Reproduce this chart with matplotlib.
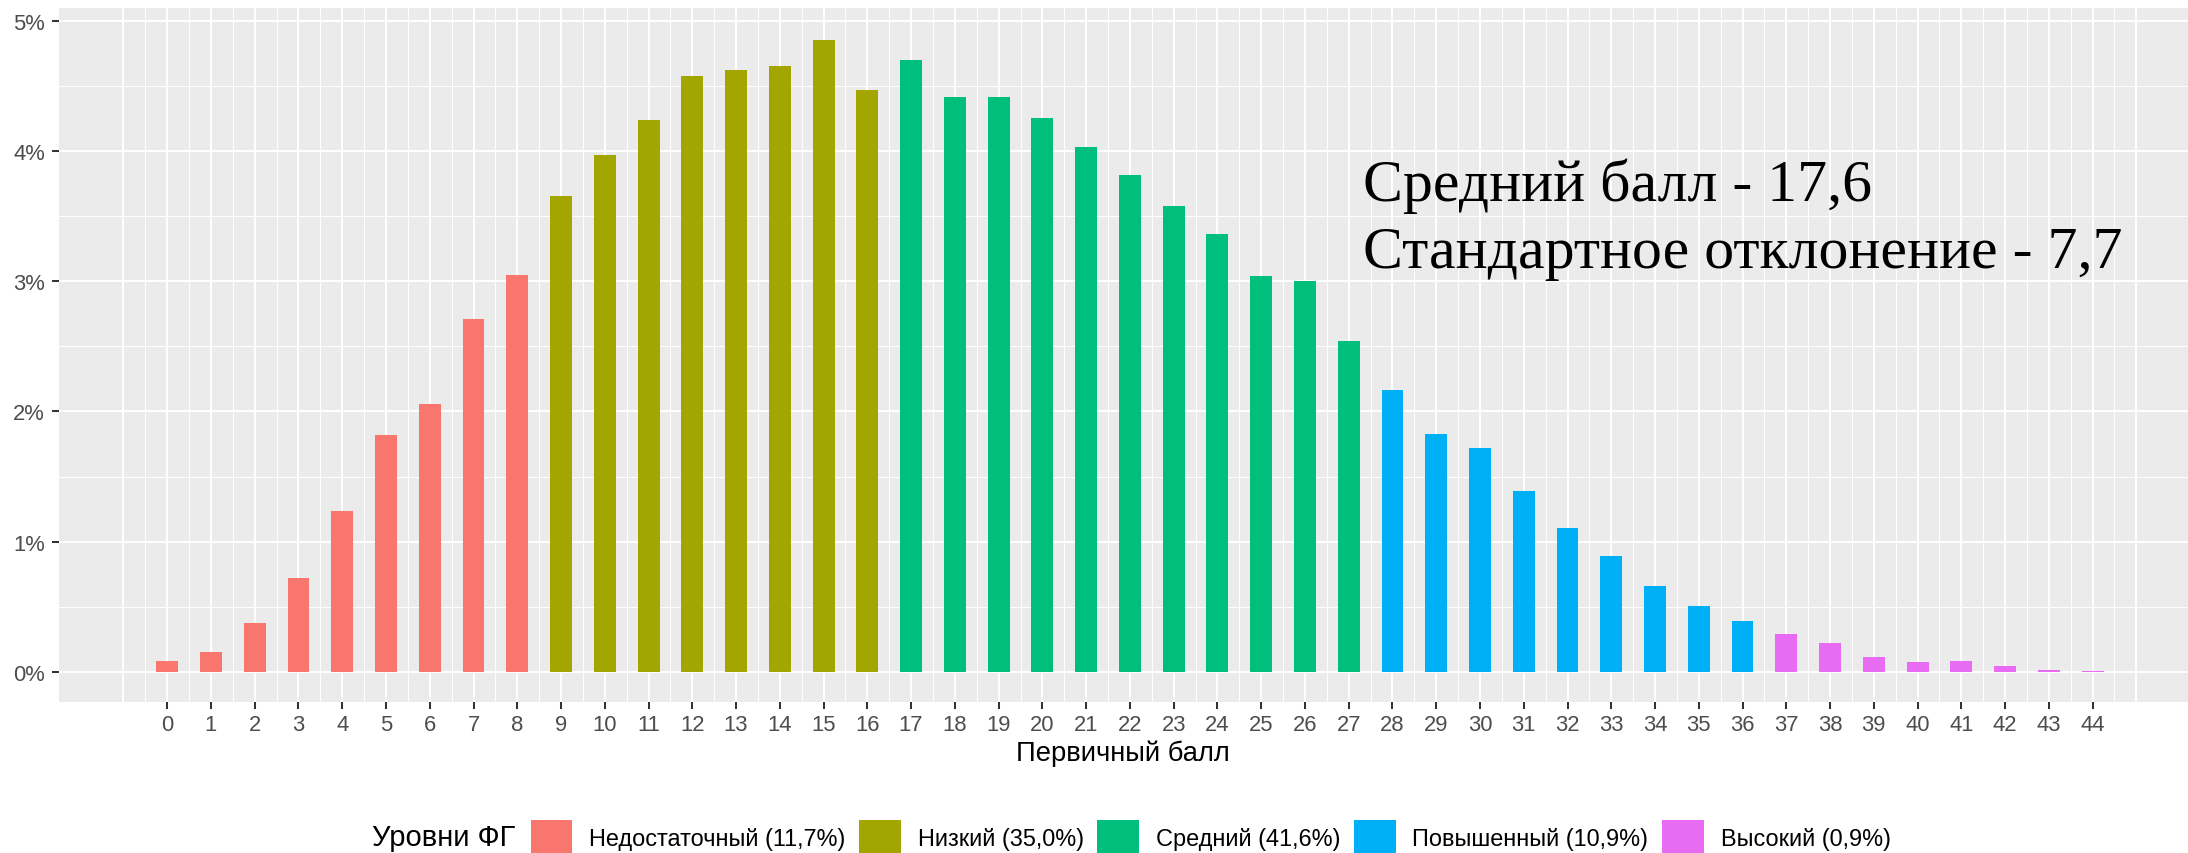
#!/usr/bin/env python3

import numpy as np
import matplotlib
matplotlib.use("Agg")
import matplotlib.pyplot as plt
from matplotlib.ticker import FixedLocator, FuncFormatter

# primary score and share of participants, %
scores = list(range(45))
shares = [0.085, 0.149, 0.377, 0.718, 1.238, 1.823, 2.059, 2.711, 3.046,
          3.659, 3.972, 4.238, 4.579, 4.625, 4.653, 4.855, 4.473,
          4.702, 4.415, 4.420, 4.253, 4.031, 3.815, 3.582, 3.362, 3.044, 3.001, 2.540,
          2.165, 1.825, 1.718, 1.386, 1.108, 0.889, 0.656, 0.505, 0.390,
          0.287, 0.221, 0.113, 0.077, 0.082, 0.041, 0.015, 0.005]

# levels: label, first score, last score
levels = ["Недостаточный (11,7%)", "Низкий (35,0%)", "Средний (41,6%)",
          "Повышенный (10,9%)", "Высокий (0,9%)"]
level_bounds = [(0, 8), (9, 16), (17, 27), (28, 36), (37, 44)]
level_colors = ["#F8766D", "#A3A500", "#00BF7D", "#00B0F6", "#E76BF3"]

legend_title = "Уровни ФГ"
x_title = "Первичный балл"
note_lines = ["Средний балл - 17,6", "Стандартное отклонение - 7,7"]

plt.rcParams['font.family'] = ['Liberation Sans', 'DejaVu Sans']

W, H = 2188, 854
fig = plt.figure(figsize=(W / 100, H / 100), dpi=100)
ax = fig.add_axes([58.7 / W, 1 - 703.3 / H, 1 - 58.7 / W, (703.3 - 9) / H])
ax.set_facecolor("#EBEBEB")
for s in ax.spines.values():
    s.set_visible(False)

x = np.array(scores)
y = np.array(shares)
for lab, (lo, hi), col in zip(levels, level_bounds, level_colors):
    m = (x >= lo) & (x <= hi)
    ax.bar(x[m], y[m], width=0.5, color=col, label=lab, zorder=3)

ax.set_xlim(-2.48, 46.18)
ax.set_ylim(-0.235, 5.101)

# grid like ggplot
for g in np.arange(-1, 46):
    ax.axvline(g, color="white", lw=1.4, zorder=1)
for g in np.arange(-0.5, 45, 1.0):
    ax.axvline(g, color="white", lw=0.7, zorder=1)
for g in range(6):
    ax.axhline(g, color="white", lw=1.4, zorder=1)
for g in np.arange(0.5, 5, 1.0):
    ax.axhline(g, color="white", lw=0.7, zorder=1)

ax.xaxis.set_major_locator(FixedLocator(scores))
ax.yaxis.set_major_locator(FixedLocator(range(6)))
ax.yaxis.set_major_formatter(FuncFormatter(lambda v, p: "%d%%" % v))
ax.tick_params(axis="both", which="major", length=5, width=1.45, color="#333333",
               labelsize=15.8, labelcolor="#4D4D4D")
ax.tick_params(axis="x", pad=3.6)
ax.tick_params(axis="y", pad=4.8)

ax.set_xlabel(x_title, fontsize=19.7, color="black", labelpad=3)

for line, yy in zip(note_lines, [3.626, 3.111]):
    ax.text(27.33, yy, line, fontsize=43, family="Liberation Serif",
            ha="left", va="baseline", color="black", zorder=4)

# legend at the bottom, title on the left
fig.text(372.5 / W, 1 - 838 / H, legend_title, fontsize=21, ha="left", va="center")
handles, labels = ax.get_legend_handles_labels()
fig.legend(handles, labels, loc="center left", bbox_to_anchor=(530.6 / W, 1 - 838 / H),
           ncol=5, frameon=False, fontsize=16.9, borderpad=0, borderaxespad=0,
           handlelength=1.78, handleheight=1.82, handletextpad=0.72, columnspacing=0.57)

fig.savefig("out.png", dpi=100)
